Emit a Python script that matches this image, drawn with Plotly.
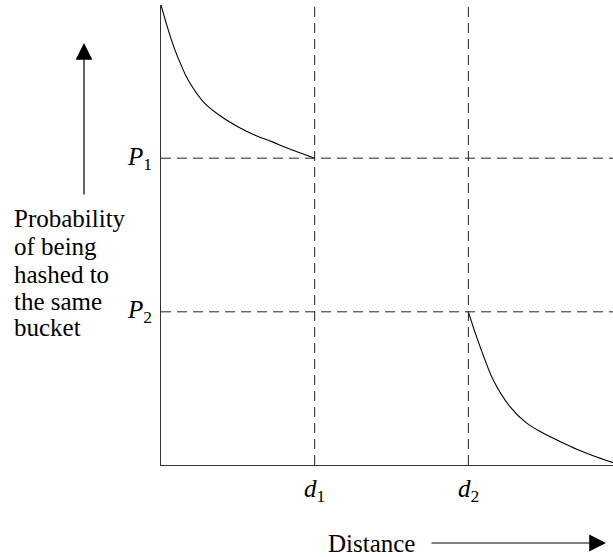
import plotly.graph_objects as go

# Threshold distances and probabilities (axis units 0-10)
d1, d2 = 3.4, 6.8
p1, p2 = 6.67, 3.33

# Probability curve for close points (0 .. d1)
near_x = [0.0, 0.16, 0.31, 0.46, 0.60, 0.97, 1.34, 1.71, 2.08, 2.45, 2.82, 3.4]
near_y = [10.0, 9.46, 9.02, 8.66, 8.37, 7.86, 7.57, 7.35, 7.17, 7.03, 6.88, 6.67]

# Probability curve for far points (d2 .. end)
far_x = [6.8, 6.98, 7.17, 7.35, 7.72, 8.09, 8.46, 8.83, 9.20, 9.56, 10.0]
far_y = [3.33, 2.79, 2.28, 1.85, 1.27, 0.91, 0.69, 0.51, 0.34, 0.20, 0.05]

y_caption = ["Probability", "of being", "hashed to", "the same", "bucket"]

FAMILY = "Liberation Serif"
FS = 25
W, H = 613, 557
L, R, T, B = 161, 0, 5, 92
PW, PH = W - L - R, H - T - B


def px(xp):
    return (xp - L) / PW


def py(yp):
    return (H - B - yp) / PH


def serif(size=FS):
    return dict(family=FAMILY, size=size, color="black")


def styled(text):
    return '<span style="font-family:%s">%s</span>' % (FAMILY, text)


fig = go.Figure()
for xs, ys in [(near_x, near_y), (far_x, far_y)]:
    fig.add_trace(go.Scatter(x=xs, y=ys, mode="lines", line_shape="spline",
                             line=dict(color="black", width=1.1, smoothing=1.0),
                             hoverinfo="skip"))

dash = dict(color="#222", width=1, dash="10px,6px")
for xv in (d1, d2):
    fig.add_shape(type="line", x0=xv, x1=xv, y0=0, y1=10, xref="x", yref="y", line=dash)
for yv in (p1, p2):
    fig.add_shape(type="line", x0=0, x1=10, y0=yv, y1=yv, xref="x", yref="y", line=dash)

for lab, yv in [("<i>P</i><sub>1</sub>", p1), ("<i>P</i><sub>2</sub>", p2)]:
    fig.add_annotation(x=px(154), xref="paper", y=yv, yref="y", text=styled(lab),
                       showarrow=False, xanchor="right", yanchor="middle", font=serif())
for lab, xv in [("<i>d</i><sub>1</sub>", d1), ("<i>d</i><sub>2</sub>", d2)]:
    fig.add_annotation(x=xv, xref="x", y=py(490), yref="paper", text=styled(lab),
                       showarrow=False, xanchor="center", yanchor="middle", font=serif())

line_y = [218, 246, 274, 301, 327]
for t, yp in zip(y_caption, line_y):
    fig.add_annotation(x=px(12), xref="paper", y=py(yp), yref="paper", text=styled(t),
                       showarrow=False, xanchor="left", yanchor="middle", font=serif())

fig.add_annotation(x=px(371), xref="paper", y=py(543), yref="paper", text=styled("Distance"),
                   showarrow=False, xanchor="center", yanchor="middle", font=serif())

# Direction arrows
fig.add_annotation(x=px(84), xref="paper", y=py(43), yref="paper", text="", showarrow=True,
                   ax=0, ay=196 - 43, arrowhead=2, arrowsize=2.8, arrowwidth=1.2,
                   arrowcolor="black", standoff=0)
fig.add_annotation(x=px(606), xref="paper", y=py(543), yref="paper", text="", showarrow=True,
                   ax=430 - 606, ay=0, arrowhead=2, arrowsize=2.8, arrowwidth=1.2,
                   arrowcolor="black", standoff=0)

fig.update_layout(
    width=W, height=H,
    margin=dict(l=L, r=R, t=T, b=B),
    paper_bgcolor="white", plot_bgcolor="white",
    showlegend=False,
    font=serif(),
    xaxis=dict(range=[0, 10], showgrid=False, zeroline=False, showticklabels=False,
               ticks="", showline=True, linecolor="#333", linewidth=1.2),
    yaxis=dict(range=[0, 10], showgrid=False, zeroline=False, showticklabels=False,
               ticks="", showline=True, linecolor="#333", linewidth=1.2),
)

fig.write_html("out.html")
